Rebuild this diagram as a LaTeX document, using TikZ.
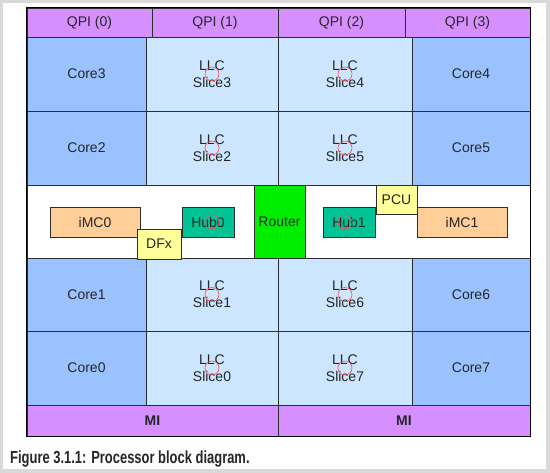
\documentclass[tikz,border=0pt]{standalone}
\usepackage{fontspec}
\setmainfont{Liberation Sans}
\newfontfamily\capfont[FakeStretch=0.74]{Liberation Sans}
\usetikzlibrary{calc}
\usetikzlibrary{positioning}

\definecolor{qpicol}{RGB}{214,143,255}
\definecolor{corecol}{RGB}{153,194,255}
\definecolor{llccol}{RGB}{204,230,255}
\definecolor{routercol}{RGB}{0,238,0}
\definecolor{hubcol}{RGB}{0,196,150}
\definecolor{imccol}{RGB}{255,206,153}
\definecolor{dfxcol}{RGB}{255,255,153}
\definecolor{framecol}{RGB}{217,217,217}
\definecolor{linecol}{RGB}{45,45,45}

\tikzset{
	cell/.style={draw=linecol,line width=0.8pt,inner sep=0pt,text=black!85,
		font=\fontsize{14}{15}\selectfont},
	qpibox/.style={cell,fill=qpicol},
	mibox/.style={cell,fill=qpicol,font=\bfseries\fontsize{14}{15}\selectfont},
	corebox/.style={cell,fill=corecol},
	llcbox/.style={cell,fill=llccol,align=center,font=\fontsize{14}{17}\selectfont},
	unitbox/.style={cell,line width=0.7pt},
	slicering/.style={red!70,line width=0.6pt},
}

\begin{document}
\begin{tikzpicture}[x=1pt,y=-1pt]
			%frame and page
			\useasboundingbox (0,0) rectangle (550,473);
			\fill[framecol] (0,0) rectangle (550,473);
			\fill[white] (3,3) rectangle (546,469);
			%qpi row
			\node[qpibox,minimum width=125pt,minimum height=29pt] (qpi0) at (89.5,22.5) {QPI (0)};
			\node[qpibox,minimum width=126pt,minimum height=29pt] (qpi1) at (215,22.5) {QPI (1)};
			\node[qpibox,minimum width=127pt,minimum height=29pt] (qpi2) at (341.5,22.5) {QPI (2)};
			\node[qpibox,minimum width=125pt,minimum height=29pt] (qpi3) at (467.5,22.5) {QPI (3)};
			%upper cores and llc slices
			\node[corebox,minimum width=119pt,minimum height=74pt] (core3) at (86.5,74) {Core3};
			\node[llcbox,minimum width=132pt,minimum height=74pt] (llc3) at (212,74) {LLC\\Slice3};
			\node[llcbox,minimum width=134pt,minimum height=74pt] (llc4) at (345,74) {LLC\\Slice4};
			\node[corebox,minimum width=118pt,minimum height=74pt] (core4) at (471,74) {Core4};
			\node[corebox,minimum width=119pt,minimum height=74pt] (core2) at (86.5,148) {Core2};
			\node[llcbox,minimum width=132pt,minimum height=74pt] (llc2) at (212,148) {LLC\\Slice2};
			\node[llcbox,minimum width=134pt,minimum height=74pt] (llc5) at (345,148) {LLC\\Slice5};
			\node[corebox,minimum width=118pt,minimum height=74pt] (core5) at (471,148) {Core5};
			%middle band
			\node[cell,fill=white,minimum width=503pt,minimum height=73pt] (band) at (278.5,221.5) {};
			\node[cell,fill=routercol,minimum width=51pt,minimum height=73pt] (router) at (279.5,221.5) {Router};
			\node[unitbox,fill=imccol,minimum width=90pt,minimum height=30pt] (imc0) at (95,222) {iMC0};
			\node[unitbox,fill=hubcol,minimum width=52pt,minimum height=30pt] (hub0) at (208,222) {Hub0};
			\node[unitbox,fill=hubcol,minimum width=52pt,minimum height=30pt] (hub1) at (349,222) {Hub1};
			\node[unitbox,fill=imccol,minimum width=90pt,minimum height=30pt] (imc1) at (462,222) {iMC1};
			%lower cores and llc slices
			\node[corebox,minimum width=119pt,minimum height=73pt] (core1) at (86.5,294.5) {Core1};
			\node[llcbox,minimum width=132pt,minimum height=73pt] (llc1) at (212,294.5) {LLC\\Slice1};
			\node[llcbox,minimum width=134pt,minimum height=73pt] (llc6) at (345,294.5) {LLC\\Slice6};
			\node[corebox,minimum width=118pt,minimum height=73pt] (core6) at (471,294.5) {Core6};
			\node[corebox,minimum width=119pt,minimum height=74pt] (core0) at (86.5,368) {Core0};
			\node[llcbox,minimum width=132pt,minimum height=74pt] (llc0) at (212,368) {LLC\\Slice0};
			\node[llcbox,minimum width=134pt,minimum height=74pt] (llc7) at (345,368) {LLC\\Slice7};
			\node[corebox,minimum width=118pt,minimum height=74pt] (core7) at (471,368) {Core7};
			%small units on the band edges
			\node[unitbox,fill=dfxcol,minimum width=44pt,minimum height=30pt] (dfx) at (159,244) {DFx};
			\node[unitbox,fill=dfxcol,minimum width=41pt,minimum height=29pt] (pcu) at (396.5,199.5) {PCU};
			%mi row
			\node[mibox,minimum width=251pt,minimum height=31pt] (mi0) at (152.5,420.5) {MI};
			\node[mibox,minimum width=252pt,minimum height=31pt] (mi1) at (404,420.5) {MI};
			%outer border
			\draw[black,line width=1.6pt] (qpi0.north west) rectangle (mi1.south east);
			%ring stops
			\foreach \s in {llc3,llc4,llc2,llc5,llc1,llc6,llc0,llc7}
				\draw[slicering] (\s.center) circle (7pt);
			\draw[slicering] (llc2.center |- hub0.center) circle (7pt);
			\draw[slicering] (llc5.center |- hub1.center) circle (7pt);
			%caption
			\node[anchor=base west,inner sep=0pt,text=black!85,font=\capfont\bfseries\fontsize{17.5}{19}\selectfont] (caption) at (10,464) {Figure 3.1.1: Processor block diagram.};
		\end{tikzpicture}
\end{document}
